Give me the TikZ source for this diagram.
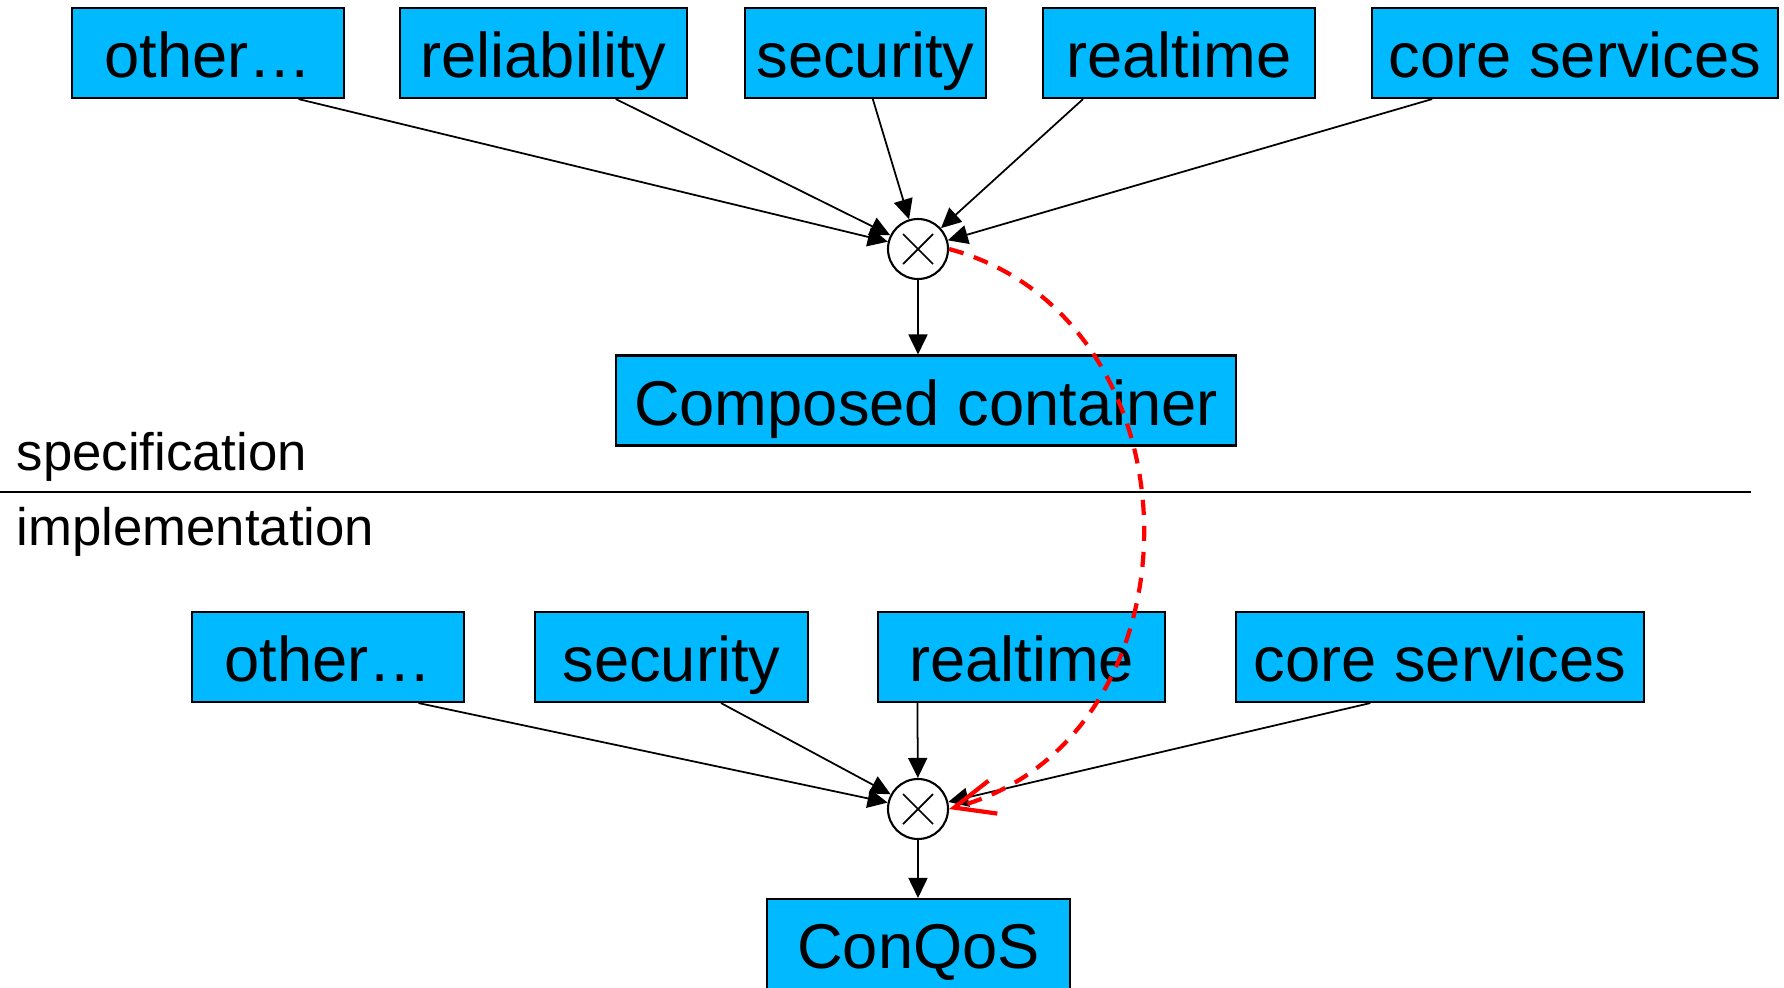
\documentclass[tikz,border=0pt]{standalone}
\usepackage{fontspec}
\setmainfont{Liberation Sans}
\usetikzlibrary{arrows.meta,calc}

\definecolor{qosblue}{RGB}{0,185,255}
\definecolor{mapred}{RGB}{255,0,0}

\tikzset{
  qbox/.style={draw,line width=0.6pt,fill=qosblue,minimum height=0.9cm,inner sep=0pt,
    text height=16.5pt,text depth=2.5pt,font=\fontsize{18}{21}\selectfont},
  mixer/.style={circle,draw,line width=0.6pt,fill=white,minimum size=0.6cm,inner sep=0pt},
  arr/.style={line width=0.5pt,-{Triangle[length=0.2cm,width=0.19cm]}},
  layer/.style={inner sep=0pt,font=\fontsize{15}{18}\selectfont},
}

\begin{document}
\begin{tikzpicture}
  \useasboundingbox (0,0) rectangle (17.84,-9.87);

  % Specification boxes
  \node[qbox,minimum width=2.72cm] (othT) at (2.08,-0.53) {other\dots};
  \node[qbox,minimum width=2.87cm] (relT) at (5.435,-0.53) {reliability};
  \node[qbox,minimum width=2.41cm] (secT) at (8.655,-0.53) {security};
  \node[qbox,minimum width=2.72cm] (rtT) at (11.79,-0.53) {realtime};
  \node[qbox,minimum width=4.06cm] (coreT) at (15.75,-0.53) {core services};

  \node[mixer] (mixT) at (9.18,-2.49) {};
  \draw[line width=0.5pt] (mixT.center) +(-0.15,-0.15) -- +(0.15,0.15);
  \draw[line width=0.5pt] (mixT.center) +(-0.15,0.15) -- +(0.15,-0.15);

  \node[qbox,minimum width=6.2cm] (comp) at (9.26,-4.005) {Composed container};

  % Layers
  \node[layer,anchor=base west] (spec) at (0.16,-4.70) {specification};
  \node[layer,anchor=base west] (impl) at (0.16,-5.45) {implementation};
  \coordinate (sepL) at (0,-4.92);
  \coordinate (sepR) at (17.51,-4.92);
  \draw[line width=0.6pt] (sepL) -- (sepR);

  % Implementation boxes
  \node[qbox,minimum width=2.72cm] (othB) at (3.28,-6.57) {other\dots};
  \node[qbox,minimum width=2.73cm] (secB) at (6.715,-6.57) {security};
  \node[qbox,minimum width=2.87cm] (rtB) at (10.215,-6.57) {realtime};
  \node[qbox,minimum width=4.08cm] (coreB) at (14.40,-6.57) {core services};

  \node[mixer] (mixB) at (9.18,-8.09) {};
  \draw[line width=0.5pt] (mixB.center) +(-0.15,-0.15) -- +(0.15,0.15);
  \draw[line width=0.5pt] (mixB.center) +(-0.15,0.15) -- +(0.15,-0.15);

  \node[qbox,minimum width=3.03cm] (conqos) at (9.185,-9.44) {ConQoS};

  % Arrows
  \foreach \n/\f in {othT/0.83, relT/0.75, secT/0.53, rtT/0.15, coreT/0.15}
    \draw[arr] ($(\n.south west)!\f!(\n.south east)$) -- (mixT);
  \foreach \n/\f in {othB/0.83, secB/0.68, rtB/0.14, coreB/0.33}
    \draw[arr] ($(\n.south west)!\f!(\n.south east)$) -- (mixB);
  \draw[arr] (mixT) -- (mixT |- comp.north);
  \draw[arr] (mixB) -- (mixB |- conqos.north);

  % Mapping
  \draw[mapred,line width=1.2pt,dash pattern=on 4.3pt off 3.1pt,
        -{Straight Barb[length=0.4cm,width=0.34cm]}]
    (mixT.east) .. controls (12.08,-3.19) and (12.08,-7.39) .. (mixB.east);
\end{tikzpicture}
\end{document}
